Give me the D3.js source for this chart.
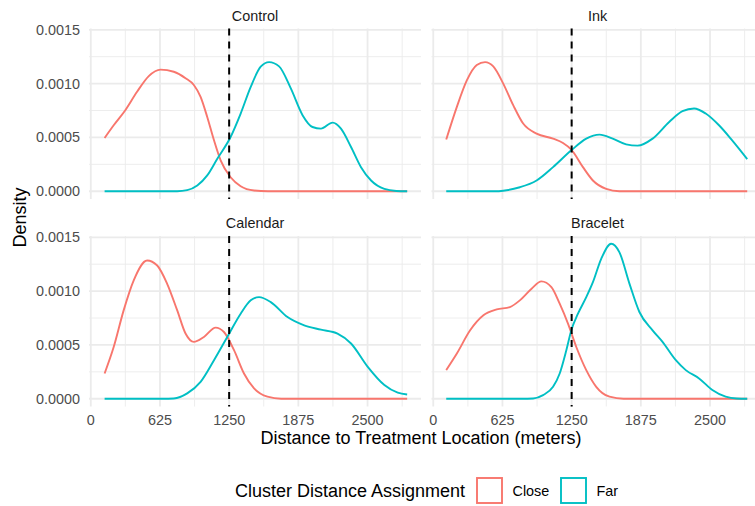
<!DOCTYPE html>
<html>
<head>
<meta charset="utf-8">
<script src="https://cdn.jsdelivr.net/npm/d3@7"></script>
<style>
  body { margin: 0; background: #fff; }
  text { font-family: "Liberation Sans", Arial, sans-serif; }
</style>
</head>
<body>
<div class="chart-container"></div>
<script>
const svgWidth = 755;
const svgHeight = 506;
const closeColor = "#F8766D";
const farColor = "#00BFC4";
const gridColor = "#EBEBEB";

// facet names, in wrap order
const facetNames = ["Control", "Ink", "Calendar", "Bracelet"];
const xTicks = [0, 625, 1250, 1875, 2500];
const xMinor = [312.5, 937.5, 1562.5, 2187.5, 2812.5];
const yTicks = [0, 0.0005, 0.0010, 0.0015];
const yMinor = [0.00025, 0.00075, 0.00125];
const cutoff = 1250;

// density curves, [distance, density]
const controlClose = [[125,0.000495],[207,0.000613],[312,0.000753],[418,0.000924],[524,0.00107],[630,0.00113],[750,0.00111],[856,0.00105],[931,0.000987],[992,0.000877],[1052,0.00069],[1113,0.000473],[1173,0.000287],[1263,0.00013],[1354,0.000047],[1475,0.000007],[1600,0],[2858,0]];
const controlFar = [[125,0],[780,0],[871,0.00001],[962,0.000053],[1052,0.000147],[1143,0.000302],[1263,0.000504],[1354,0.000722],[1445,0.00097],[1535,0.001157],[1611,0.0012],[1701,0.00116],[1807,0.000955],[1913,0.000707],[2003,0.000597],[2079,0.000582],[2185,0.000638],[2260,0.000582],[2351,0.000411],[2441,0.000224],[2532,0.0001],[2652,0.000022],[2760,0.000003],[2858,0]];
const inkClose = [[117,0.00048],[213,0.000784],[303,0.00103],[393,0.001173],[468,0.0012],[542,0.00116],[632,0.001],[722,0.0008],[812,0.000629],[933,0.000536],[1082,0.000489],[1172,0.000448],[1247,0.000386],[1352,0.000224],[1442,0.0001],[1562,0.000022],[1680,0],[2836,0]];
const inkFar = [[117,0],[560,0],[632,0.000005],[782,0.000037],[933,0.0001],[1082,0.000224],[1247,0.00038],[1382,0.000489],[1502,0.000526],[1621,0.000489],[1742,0.000436],[1846,0.000424],[1981,0.000489],[2131,0.000644],[2251,0.000744],[2356,0.000769],[2461,0.000722],[2581,0.000613],[2700,0.000473],[2836,0.000299]];
const calendarClose = [[125,0.000235],[207,0.00048],[297,0.000821],[388,0.0011],[509,0.001284],[600,0.001238],[690,0.001068],[781,0.000821],[856,0.000606],[931,0.000528],[1022,0.000574],[1128,0.000661],[1203,0.00062],[1294,0.000451],[1384,0.000235],[1475,0.000096],[1596,0.000019],[1720,0],[2858,0]];
const calendarFar = [[125,0],[650,0],[750,0.000003],[871,0.00005],[992,0.000157],[1113,0.000358],[1233,0.000574],[1354,0.00079],[1445,0.000914],[1520,0.000944],[1626,0.000898],[1777,0.000759],[1928,0.000682],[2079,0.000642],[2229,0.000605],[2351,0.000513],[2502,0.000296],[2652,0.000127],[2773,0.000056],[2858,0.00004]];
const braceletClose = [[117,0.000266],[213,0.00042],[333,0.000636],[453,0.000775],[573,0.00083],[692,0.000852],[782,0.000914],[888,0.001022],[977,0.00109],[1067,0.001037],[1142,0.000883],[1217,0.000698],[1292,0.000481],[1382,0.000266],[1472,0.000111],[1592,0.000019],[1720,0],[2836,0]];
const braceletFar = [[117,0],[800,0],[902,0.000003],[992,0.000034],[1082,0.000111],[1142,0.000235],[1202,0.000451],[1247,0.000636],[1307,0.00079],[1382,0.000944],[1442,0.001083],[1517,0.0013],[1607,0.00144],[1682,0.00136],[1772,0.00107],[1862,0.000806],[1981,0.000636],[2071,0.000528],[2191,0.000358],[2281,0.000266],[2401,0.000189],[2521,0.000081],[2641,0.000019],[2740,0.000002],[2836,0]];

const curvesByFacet = {
    Control: [controlClose, controlFar],
    Ink: [inkClose, inkFar],
    Calendar: [calendarClose, calendarFar],
    Bracelet: [braceletClose, braceletFar]
};

// panel layout (2 x 2 facet_wrap, fixed scales)
const colLeft = [89, 431.5];
const rowTop = [28.5, 236];
const panelWidth = 332;
const panelHeight = 170.5;

const svg = d3.select(".chart-container")
              .append("svg")
              .attr("width", svgWidth)
              .attr("height", svgHeight);

svg.append("rect").attr("width", svgWidth).attr("height", svgHeight).attr("fill", "#fff");

const xScale = d3.scaleLinear().domain([-16, 2983]).range([0, panelWidth]);
const yScale = d3.scaleLinear().domain([-0.000072, 0.001512]).range([panelHeight, 0]);

const line = d3.line()
               .x(function(d) { return xScale(d[0]); })
               .y(function(d) { return yScale(d[1]); })
               .curve(d3.curveMonotoneX);

function drawPanel(name, i) {
    let col = i % 2;
    let row = Math.floor(i / 2);
    const g = svg.append("g")
                 .attr("transform", "translate(" + colLeft[col] + "," + rowTop[row] + ")");

    // minor grid first, then major
    g.selectAll(".xminor").data(xMinor).enter().append("line")
     .attr("x1", d => xScale(d)).attr("x2", d => xScale(d))
     .attr("y1", 0).attr("y2", panelHeight)
     .attr("stroke", gridColor).attr("stroke-width", 0.9);
    g.selectAll(".yminor").data(yMinor).enter().append("line")
     .attr("x1", 0).attr("x2", panelWidth)
     .attr("y1", d => yScale(d)).attr("y2", d => yScale(d))
     .attr("stroke", gridColor).attr("stroke-width", 0.9);
    g.selectAll(".xmajor").data(xTicks).enter().append("line")
     .attr("x1", d => xScale(d)).attr("x2", d => xScale(d))
     .attr("y1", 0).attr("y2", panelHeight)
     .attr("stroke", gridColor).attr("stroke-width", 1.8);
    g.selectAll(".ymajor").data(yTicks).enter().append("line")
     .attr("x1", 0).attr("x2", panelWidth)
     .attr("y1", d => yScale(d)).attr("y2", d => yScale(d))
     .attr("stroke", gridColor).attr("stroke-width", 1.8);

    // strip label
    svg.append("text")
       .attr("x", colLeft[col] + panelWidth / 2)
       .attr("y", rowTop[row] - 8)
       .attr("text-anchor", "middle")
       .style("font-size", "14.4px")
       .style("fill", "#1A1A1A")
       .text(name);

    let curves = curvesByFacet[name];
    g.append("path").datum(curves[0])
     .attr("d", line).attr("fill", "none")
     .attr("stroke", closeColor).attr("stroke-width", 1.9);
    g.append("path").datum(curves[1])
     .attr("d", line).attr("fill", "none")
     .attr("stroke", farColor).attr("stroke-width", 1.9);

    g.append("line")
     .attr("x1", xScale(cutoff)).attr("x2", xScale(cutoff))
     .attr("y1", 0).attr("y2", panelHeight)
     .attr("stroke", "#000").attr("stroke-width", 2)
     .attr("stroke-dasharray", "7,6");

    if (col === 0) {
        g.selectAll(".ylab").data(yTicks).enter().append("text")
         .attr("x", -9)
         .attr("y", d => yScale(d) + 5)
         .attr("text-anchor", "end")
         .style("font-size", "14.4px")
         .style("fill", "#4D4D4D")
         .text(d => d3.format(".4f")(d));
    }
    if (row === 1) {
        g.selectAll(".xlab").data(xTicks).enter().append("text")
         .attr("x", d => xScale(d))
         .attr("y", panelHeight + 18.5)
         .attr("text-anchor", "middle")
         .style("font-size", "14.4px")
         .style("fill", "#4D4D4D")
         .text(d => d);
    }
}

facetNames.forEach(drawPanel);

// axis titles
svg.append("text")
   .attr("x", 421)
   .attr("y", 443.5)
   .attr("text-anchor", "middle")
   .style("font-size", "18px")
   .text("Distance to Treatment Location (meters)");

svg.append("text")
   .attr("transform", "translate(26,217.5) rotate(-90)")
   .attr("text-anchor", "middle")
   .style("font-size", "18px")
   .text("Density");

// legend
const legendNames = ["Close", "Far"];
const legendColors = [closeColor, farColor];
const legendKeyX = [477, 561];

svg.append("text")
   .attr("x", 235)
   .attr("y", 496.5)
   .style("font-size", "18px")
   .text("Cluster Distance Assignment");

legendNames.forEach(function(n, i) {
    svg.append("rect")
       .attr("x", legendKeyX[i]).attr("y", 478)
       .attr("width", 25).attr("height", 25)
       .attr("fill", "#fff")
       .attr("stroke", legendColors[i]).attr("stroke-width", 1.9);
    svg.append("text")
       .attr("x", legendKeyX[i] + 35.5)
       .attr("y", 496)
       .style("font-size", "14.4px")
       .text(n);
});
</script>
</body>
</html>
